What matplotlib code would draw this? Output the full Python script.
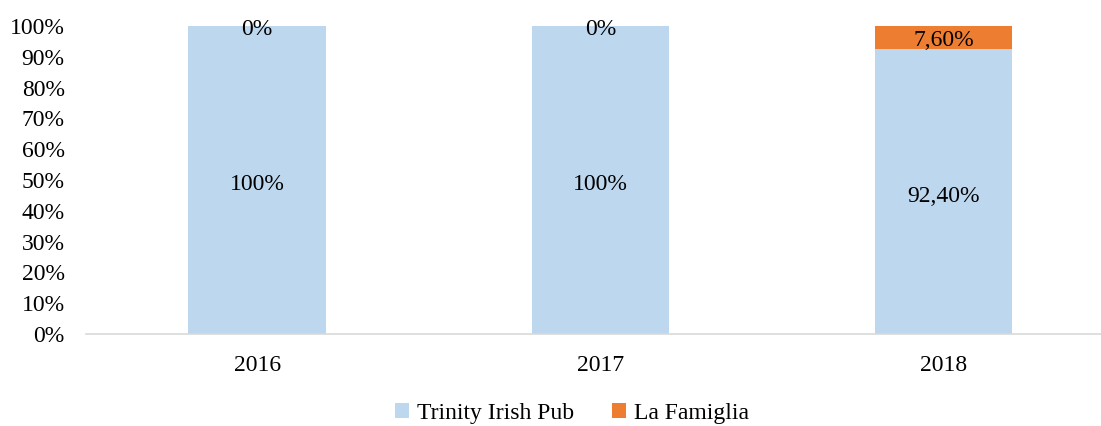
import numpy as np
import matplotlib
matplotlib.use("Agg")
import matplotlib.pyplot as plt
from matplotlib.patches import Patch

years = ["2016", "2017", "2018"]
trinity = [100.0, 100.0, 92.4]
famiglia = [0.0, 0.0, 7.6]
trinity_labels = ["100%", "100%", "92,40%"]
famiglia_labels = ["0%", "0%", "7,60%"]

blue = "#BDD7EE"
orange = "#ED7D31"

plt.rcParams["font.family"] = ["Liberation Serif", "DejaVu Serif"]
plt.rcParams["font.size"] = 17

fig = plt.figure(figsize=(11.01, 4.26), dpi=100)
# plot area: x from 85.5px to 1115px (extends past right edge), y from 26px to 334px
W, H = 1101.0, 426.0
ax = fig.add_axes([85.5 / W, (H - 334) / H, (1115 - 85.5) / W, (334 - 26) / H])

x = np.arange(len(years))
b1 = ax.bar(x, trinity, width=0.4, color=blue, zorder=2)
b2 = ax.bar(x, famiglia, width=0.4, bottom=trinity, color=orange, zorder=2)

for i in range(len(years)):
    ax.text(x[i], trinity[i] / 2 - 1.5, trinity_labels[i], ha="center", va="center")
    ax.text(x[i], trinity[i] + famiglia[i] / 2 - 1.0, famiglia_labels[i], ha="center", va="center")

ax.set_xlim(-0.5, 2.5)
ax.set_ylim(0, 100)
ax.set_yticks(np.arange(0, 101, 10))
ax.set_yticklabels([f"{v}%" for v in range(0, 101, 10)])
ax.set_xticks(x)
ax.set_xticklabels(years)

for s in ["top", "right", "left"]:
    ax.spines[s].set_visible(False)
ax.spines["bottom"].set_color("#D9D9D9")
ax.spines["bottom"].set_linewidth(1.2)
ax.tick_params(axis="both", length=0)
ax.tick_params(axis="y", pad=15)
ax.tick_params(axis="x", pad=15)

handles = [Patch(facecolor=blue, label="Trinity Irish Pub"),
           Patch(facecolor=orange, label="La Famiglia")]
fig.legend(handles=handles, loc="center", bbox_to_anchor=(572 / W, 1 - 413 / H),
           ncol=2, frameon=False, handlelength=0.6, handleheight=0.6,
           handletextpad=0.35, columnspacing=1.6)

fig.savefig("out.png", dpi=100)
